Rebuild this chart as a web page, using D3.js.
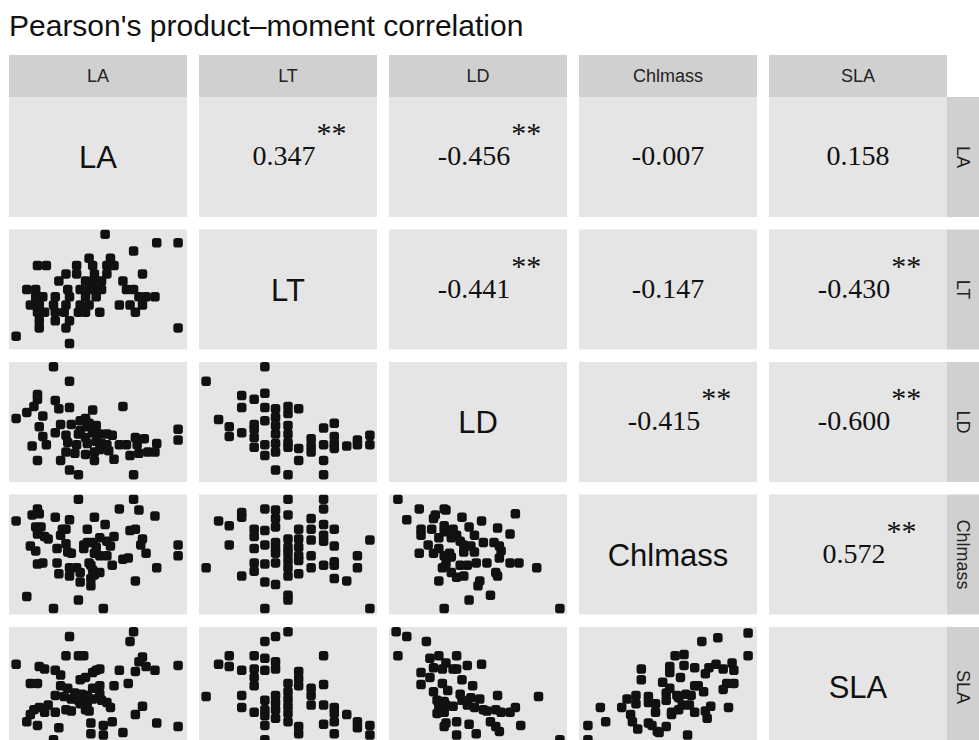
<!DOCTYPE html>
<html>
<head>
<meta charset="utf-8">
<script src="https://cdn.jsdelivr.net/npm/d3@7"></script>
<style>
  body { margin: 0; background: #fff; }
  svg { display: block; }
</style>
</head>
<body>
<svg id="chart" width="979" height="740"></svg>
<script>
// ---- data -------------------------------------------------------------
const variables = ["LA", "LT", "LD", "Chlmass", "SLA"];
const titleText = "Pearson's product\u2013moment correlation";

// upper triangle: Pearson r between column variable and row variable
const corrRow   = ["LA", "LA", "LA", "LA", "LT", "LT", "LT", "LD", "LD", "Chlmass"];
const corrCol   = ["LT", "LD", "Chlmass", "SLA", "LD", "Chlmass", "SLA", "Chlmass", "SLA", "SLA"];
const corrR     = [0.347, -0.456, -0.007, 0.158, -0.441, -0.147, -0.430, -0.415, -0.600, 0.572];
const corrStars = ["**", "**", "", "", "**", "", "**", "**", "**", "**"];

// lower triangle scatter points, [x, y] on each variable's 0-100 rescaled range
const pts_LA_LT = [[54,96],[83,89],[95,89],[70,82],[16,70],[21,70],[45,76],[57,76],[38,70],[47,70],[55,70],[59,70],[75,63],[32,63],[38,63],[48,63],[55,63],[28,57],[43,57],[47,57],[52,57],[64,57],[10,50],[15,50],[33,50],[40,50],[45,50],[49,50],[52,50],[66,50],[70,50],[15,44],[19,44],[26,44],[34,44],[43,44],[49,44],[73,44],[77,44],[82,44],[12,37],[17,37],[25,37],[32,37],[40,37],[45,37],[62,37],[68,37],[75,37],[16,31],[20,31],[26,31],[31,31],[39,31],[43,31],[51,31],[71,31],[17,24],[26,24],[34,24],[17,18],[32,18],[95,18],[4,11],[34,5]];

const pts_LA_LD = [[25,96],[34,84],[16,73],[16,69],[26,68],[14,63],[10,58],[4,53],[28,61],[34,62],[19,55],[47,60],[64,63],[17,46],[29,48],[35,48],[40,51],[43,53],[45,49],[49,47],[40,43],[44,46],[47,41],[26,41],[19,38],[32,39],[39,40],[43,37],[51,40],[55,40],[58,39],[13,30],[21,31],[33,33],[38,31],[44,32],[49,34],[52,32],[55,31],[62,31],[66,31],[71,37],[76,36],[72,31],[83,32],[95,44],[95,35],[32,25],[37,24],[43,23],[48,25],[51,27],[56,26],[68,22],[73,24],[78,25],[82,25],[16,18],[29,18],[48,18],[59,19],[34,10],[39,6],[70,6]];

const pts_LT_LD = [[37,96],[4,84],[24,72],[31,69],[37,74],[24,62],[37,62],[43,61],[50,63],[50,57],[56,61],[37,51],[43,54],[43,47],[43,40],[43,32],[43,25],[50,47],[50,40],[50,33],[50,29],[11,52],[17,46],[17,38],[24,41],[31,48],[31,44],[31,37],[31,29],[37,31],[37,22],[56,28],[56,18],[63,36],[63,30],[63,25],[70,45],[70,31],[70,18],[76,49],[76,38],[76,32],[76,28],[83,30],[89,35],[89,31],[96,39],[96,31],[43,10],[50,6],[70,6]];

const pts_LA_Chlmass = [[39,96],[70,96],[16,88],[13,83],[17,84],[26,81],[34,79],[48,81],[62,88],[73,87],[82,82],[4,78],[15,73],[18,73],[16,67],[20,65],[22,63],[30,71],[32,71],[29,66],[44,71],[54,75],[59,65],[68,70],[71,71],[75,63],[74,58],[77,51],[12,57],[15,53],[27,55],[32,59],[33,52],[35,51],[42,58],[42,55],[44,60],[47,60],[51,64],[49,56],[55,61],[57,57],[48,51],[51,49],[55,49],[16,42],[19,43],[27,43],[34,39],[38,39],[45,43],[46,41],[47,37],[51,35],[58,41],[64,46],[67,47],[83,39],[28,34],[34,32],[40,35],[40,27],[46,30],[46,24],[48,33],[71,28],[95,58],[95,49],[10,15],[39,12],[25,5],[53,5]];

const pts_LT_Chlmass = [[4,39],[11,78],[17,74],[17,58],[24,85],[24,81],[24,32],[31,71],[31,65],[31,55],[31,43],[31,36],[37,88],[37,70],[37,58],[37,42],[37,27],[37,5],[43,87],[43,80],[43,73],[43,60],[43,55],[43,51],[43,43],[43,25],[50,96],[50,83],[50,63],[50,56],[50,51],[50,45],[50,39],[50,32],[50,16],[50,12],[56,71],[56,63],[56,56],[56,49],[56,45],[56,34],[63,80],[63,71],[63,62],[63,49],[63,39],[70,96],[70,88],[70,75],[70,66],[70,61],[70,41],[76,71],[76,57],[76,44],[76,41],[76,30],[83,28],[89,49],[89,39],[96,62],[96,5]];

const pts_LD_Chlmass = [[5,96],[17,88],[31,88],[32,87],[26,83],[25,80],[10,79],[41,81],[52,78],[71,84],[18,71],[18,66],[24,71],[31,74],[31,69],[36,71],[45,73],[61,72],[68,67],[22,58],[28,64],[28,55],[35,64],[38,66],[40,61],[42,58],[46,57],[48,66],[53,60],[59,60],[62,57],[63,53],[17,51],[25,51],[31,49],[34,51],[35,48],[42,52],[48,52],[30,39],[32,42],[35,35],[38,31],[40,41],[44,41],[49,43],[55,43],[62,47],[68,43],[73,43],[83,39],[42,32],[51,28],[50,24],[60,35],[61,32],[28,28],[57,16],[45,12],[31,5],[96,5]];

const pts_LA_SLA = [[70,96],[68,88],[34,92],[32,76],[39,76],[42,76],[4,69],[17,67],[20,65],[26,64],[29,60],[49,64],[51,65],[62,64],[71,63],[73,71],[75,75],[77,67],[82,64],[95,68],[40,56],[43,58],[47,62],[12,53],[16,53],[29,51],[33,49],[37,45],[41,44],[44,43],[47,49],[51,51],[59,51],[67,53],[26,43],[31,42],[35,40],[39,39],[44,37],[47,40],[51,44],[52,39],[55,37],[57,33],[22,35],[17,33],[14,31],[20,29],[26,29],[32,31],[35,30],[40,36],[43,31],[45,30],[75,34],[71,27],[12,27],[10,21],[16,18],[46,20],[53,18],[58,21],[83,20],[95,17],[28,16],[46,11],[53,10],[64,12],[25,6]];

const pts_LT_SLA = [[4,42],[11,69],[17,76],[17,67],[24,64],[24,43],[24,33],[31,76],[31,65],[31,58],[31,51],[31,29],[37,88],[37,74],[37,64],[37,39],[37,31],[37,26],[37,18],[37,6],[43,92],[43,71],[43,65],[43,43],[43,37],[43,31],[43,24],[50,96],[50,53],[50,46],[50,40],[50,34],[50,28],[50,21],[56,63],[56,57],[56,51],[56,17],[56,11],[63,49],[63,43],[63,35],[70,76],[70,52],[70,35],[70,19],[76,33],[76,28],[76,21],[76,11],[83,27],[89,21],[89,16],[96,18],[96,10]];

const pts_LD_SLA = [[4,96],[10,92],[21,88],[5,76],[23,74],[28,76],[38,76],[32,70],[25,66],[30,65],[36,65],[38,65],[44,68],[52,69],[18,62],[23,58],[18,52],[41,56],[47,51],[30,53],[25,46],[33,47],[40,44],[41,39],[46,41],[51,40],[61,43],[84,42],[27,39],[31,38],[28,33],[32,35],[36,34],[44,35],[48,33],[53,31],[55,30],[60,31],[63,29],[68,29],[71,33],[27,28],[31,29],[32,20],[31,17],[38,21],[45,19],[57,21],[60,17],[62,13],[74,18],[38,10],[49,11],[96,6]];

const pts_Chlmass_SLA = [[95,95],[78,91],[69,88],[95,76],[54,76],[59,77],[59,68],[51,67],[51,62],[35,65],[35,56],[65,66],[71,61],[73,66],[77,69],[81,65],[86,70],[87,64],[47,54],[51,49],[57,58],[65,51],[67,51],[70,46],[83,53],[87,53],[81,48],[27,40],[32,43],[32,36],[39,42],[39,37],[43,36],[49,45],[49,39],[55,43],[56,41],[60,44],[63,43],[62,35],[58,35],[12,33],[24,33],[29,27],[43,29],[52,29],[56,31],[52,27],[65,29],[71,30],[74,34],[84,33],[72,24],[15,21],[30,21],[33,15],[39,20],[41,18],[44,13],[49,17],[45,12],[5,18],[5,6],[61,10]];

// lookup: "xVar|yVar" -> points
const scatterData = {
  "LA|LT": pts_LA_LT, "LA|LD": pts_LA_LD, "LT|LD": pts_LT_LD,
  "LA|Chlmass": pts_LA_Chlmass, "LT|Chlmass": pts_LT_Chlmass, "LD|Chlmass": pts_LD_Chlmass,
  "LA|SLA": pts_LA_SLA, "LT|SLA": pts_LT_SLA, "LD|SLA": pts_LD_SLA, "Chlmass|SLA": pts_Chlmass_SLA
};

// ---- layout -----------------------------------------------------------
const W = 979, H = 740;
const panelW = 178, panelH = 120;
const colStep = 190, rowStep = 132.5;
const gridLeft = 9, gridTop = 97;
const stripH = 42, stripW = 42;
const sansFont = "'Liberation Sans', Arial, Helvetica, sans-serif";
const serifFont = "'Liberation Serif', 'Times New Roman', Times, serif";

const panelBg = "#e5e5e5", stripBg = "#d0d0d0";

const svg = d3.select("#chart");
svg.append("rect").attr("width", W).attr("height", H).attr("fill", "#fff");

svg.append("text")
  .attr("x", 9).attr("y", 36)
  .attr("font-family", sansFont).attr("font-size", 30)
  .attr("fill", "#111")
  .text(titleText);

const colX = i => gridLeft + colStep * i;
const rowY = j => gridTop + rowStep * j;
const defs = svg.append("defs");

// column strips
variables.forEach((v, i) => {
  svg.append("rect")
    .attr("x", colX(i)).attr("y", gridTop - stripH)
    .attr("width", panelW).attr("height", stripH)
    .attr("fill", stripBg);
  svg.append("text")
    .attr("x", colX(i) + panelW / 2).attr("y", gridTop - stripH / 2)
    .attr("dy", "0.36em")
    .attr("text-anchor", "middle")
    .attr("font-family", sansFont).attr("font-size", 18)
    .attr("fill", "#222")
    .text(v);
});

// row strips
const stripX = colX(variables.length - 1) + panelW;
variables.forEach((v, j) => {
  svg.append("rect")
    .attr("x", stripX).attr("y", rowY(j))
    .attr("width", stripW).attr("height", panelH)
    .attr("fill", stripBg);
  const cx = stripX + 16, cy = rowY(j) + panelH / 2;
  svg.append("text")
    .attr("transform", `translate(${cx},${cy}) rotate(90)`)
    .attr("dy", "0.36em")
    .attr("text-anchor", "middle")
    .attr("font-family", sansFont).attr("font-size", 18)
    .attr("fill", "#222")
    .text(v);
});

// panels
variables.forEach((rowVar, j) => {
  variables.forEach((colVar, i) => {
    const x0 = colX(i), y0 = rowY(j);
    const g = svg.append("g");
    g.append("rect")
      .attr("x", x0).attr("y", y0)
      .attr("width", panelW).attr("height", panelH)
      .attr("fill", panelBg);

    if (i === j) {
      // diagonal: variable name
      g.append("text")
        .attr("x", x0 + panelW / 2).attr("y", y0 + panelH / 2)
        .attr("dy", "0.36em")
        .attr("text-anchor", "middle")
        .attr("font-family", sansFont).attr("font-size", 31)
        .attr("fill", "#111")
        .text(colVar);
    } else if (i > j) {
      // upper: correlation coefficient with significance stars
      const k = corrRow.findIndex((r, idx) => r === rowVar && corrCol[idx] === colVar);
      const label = corrR[k].toFixed(3);
      const stars = corrStars[k];
      const cx = x0 + panelW / 2 - (stars ? 4 : 0);
      const base = y0 + panelH / 2 + 8;
      const num = g.append("text")
        .attr("x", cx).attr("y", base)
        .attr("text-anchor", "middle")
        .attr("font-family", serifFont).attr("font-size", 28)
        .attr("fill", "#111")
        .text(label);
      if (stars) {
        const len = num.node().getComputedTextLength();
        g.append("text")
          .attr("x", cx + len / 2 + 1).attr("y", base - 22)
          .attr("font-family", serifFont).attr("font-size", 30)
          .attr("fill", "#111")
          .text(stars);
      }
    } else {
      // lower: scatter
      const pts = scatterData[colVar + "|" + rowVar];
      const sx = d3.scaleLinear().domain([0, 100]).range([x0, x0 + panelW]);
      const sy = d3.scaleLinear().domain([0, 100]).range([y0 + panelH, y0]);
      const clipId = `clip-${i}-${j}`;
      defs.append("clipPath").attr("id", clipId)
        .append("rect").attr("x", x0).attr("y", y0)
        .attr("width", panelW).attr("height", panelH);
      const s = 9.5;
      g.append("g").attr("clip-path", `url(#${clipId})`)
        .selectAll("rect")
        .data(pts)
        .join("rect")
        .attr("x", d => sx(d[0]) - s / 2)
        .attr("y", d => sy(d[1]) - s / 2)
        .attr("width", s).attr("height", s)
        .attr("rx", 2.8).attr("ry", 2.8)
        .attr("fill", "#111");
    }
  });
});
</script>
</body>
</html>
